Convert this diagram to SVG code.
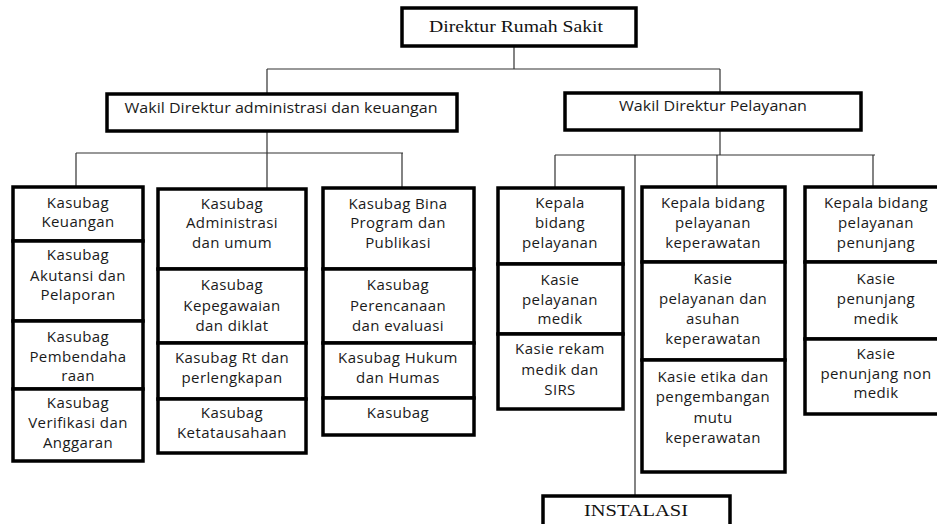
<svg xmlns="http://www.w3.org/2000/svg" width="937" height="524" viewBox="0 0 937 524">
  <style>
    .box { fill: #ffffff; stroke: #000000; stroke-width: 3.5; }
    .link { fill: none; stroke: #333333; stroke-width: 1.2; }
    .t { font-family: "Open Sans", "Liberation Sans", sans-serif; font-size: 15px; letter-spacing: 0.4px; fill: #1a1a1a; text-anchor: middle; }
    .serif { font-family: "Liberation Serif", serif; fill: #111111; text-anchor: middle; }
  </style>

  <!-- connectors -->
  <g id="connectors">
    <path class="link" d="M514 46 V69 M267 69 H720 M267 69 V94 M720 69 V93"/>
    <path class="link" d="M267 131 V153 M76 153 H403 M76 153 V187 M267 153 V189 M402 153 V188"/>
    <path class="link" d="M720 130 V155 M555 155 H875 M555 155 V188 M717 155 V187 M873 155 V187 M635 155 V496"/>
  </g>

  <!-- top level -->
  <g id="direktur">
    <rect class="box" x="402" y="8" width="234" height="38"/>
    <text class="serif" x="516" y="32" font-size="17" textLength="174" lengthAdjust="spacingAndGlyphs">Direktur Rumah Sakit</text>
  </g>
  <g id="wadir-adm">
    <rect class="box" x="107" y="94" width="350" height="37"/>
    <text class="t" x="281" y="113" style="font-size:14px;letter-spacing:0" textLength="313" lengthAdjust="spacingAndGlyphs">Wakil Direktur administrasi dan keuangan</text>
  </g>
  <g id="wadir-pel">
    <rect class="box" x="565" y="93" width="296" height="37"/>
    <text class="t" x="713" y="111" style="font-size:14px;letter-spacing:0" textLength="188" lengthAdjust="spacingAndGlyphs">Wakil Direktur Pelayanan</text>
  </g>

  <!-- column 1 -->
  <g id="keuangan">
    <rect class="box" x="13" y="187" width="130" height="54"/>
    <text class="t" x="78" y="208">Kasubag</text>
    <text class="t" x="78" y="227">Keuangan</text>
  </g>
  <g id="akutansi">
    <rect class="box" x="13" y="241" width="130" height="80"/>
    <text class="t" x="78" y="260">Kasubag</text>
    <text class="t" x="78" y="281">Akutansi dan</text>
    <text class="t" x="78" y="300">Pelaporan</text>
  </g>
  <g id="pembendaharaan">
    <rect class="box" x="13" y="321" width="130" height="68"/>
    <text class="t" x="78" y="342">Kasubag</text>
    <text class="t" x="78" y="362">Pembendaha</text>
    <text class="t" x="78" y="381">raan</text>
  </g>
  <g id="verifikasi">
    <rect class="box" x="13" y="389" width="130" height="72"/>
    <text class="t" x="78" y="408">Kasubag</text>
    <text class="t" x="78" y="428">Verifikasi dan</text>
    <text class="t" x="78" y="448">Anggaran</text>
  </g>

  <!-- column 2 -->
  <g id="administrasi">
    <rect class="box" x="158" y="189" width="148" height="80"/>
    <text class="t" x="232" y="209">Kasubag</text>
    <text class="t" x="232" y="228">Administrasi</text>
    <text class="t" x="232" y="248">dan umum</text>
  </g>
  <g id="kepegawaian">
    <rect class="box" x="158" y="269" width="148" height="74"/>
    <text class="t" x="232" y="290">Kasubag</text>
    <text class="t" x="232" y="311">Kepegawaian</text>
    <text class="t" x="232" y="331">dan diklat</text>
  </g>
  <g id="perlengkapan">
    <rect class="box" x="158" y="343" width="148" height="56"/>
    <text class="t" x="232" y="363">Kasubag Rt dan</text>
    <text class="t" x="232" y="383">perlengkapan</text>
  </g>
  <g id="ketatausahaan">
    <rect class="box" x="158" y="399" width="148" height="54"/>
    <text class="t" x="232" y="418">Kasubag</text>
    <text class="t" x="232" y="438">Ketatausahaan</text>
  </g>

  <!-- column 3 -->
  <g id="bina-program">
    <rect class="box" x="323" y="188" width="151" height="81"/>
    <text class="t" x="398" y="209">Kasubag Bina</text>
    <text class="t" x="398" y="228">Program dan</text>
    <text class="t" x="398" y="248">Publikasi</text>
  </g>
  <g id="perencanaan">
    <rect class="box" x="323" y="269" width="151" height="74"/>
    <text class="t" x="398" y="290">Kasubag</text>
    <text class="t" x="398" y="311">Perencanaan</text>
    <text class="t" x="398" y="331">dan evaluasi</text>
  </g>
  <g id="hukum">
    <rect class="box" x="323" y="343" width="151" height="55"/>
    <text class="t" x="398" y="363">Kasubag Hukum</text>
    <text class="t" x="398" y="383">dan Humas</text>
  </g>
  <g id="kasubag-lain">
    <rect class="box" x="323" y="398" width="151" height="37"/>
    <text class="t" x="398" y="418">Kasubag</text>
  </g>

  <!-- column 4 -->
  <g id="kabid-pelayanan">
    <rect class="box" x="498" y="188" width="125" height="76"/>
    <text class="t" x="560" y="208">Kepala</text>
    <text class="t" x="560" y="228">bidang</text>
    <text class="t" x="560" y="248">pelayanan</text>
  </g>
  <g id="kasie-medik">
    <rect class="box" x="498" y="264" width="125" height="70"/>
    <text class="t" x="560" y="285">Kasie</text>
    <text class="t" x="560" y="305">pelayanan</text>
    <text class="t" x="560" y="324">medik</text>
  </g>
  <g id="kasie-rekam">
    <rect class="box" x="498" y="334" width="125" height="75"/>
    <text class="t" x="560" y="354">Kasie rekam</text>
    <text class="t" x="560" y="375">medik dan</text>
    <text class="t" x="560" y="395">SIRS</text>
  </g>

  <!-- column 5 -->
  <g id="kabid-keperawatan">
    <rect class="box" x="642" y="187" width="143" height="75"/>
    <text class="t" x="713" y="208">Kepala bidang</text>
    <text class="t" x="713" y="228">pelayanan</text>
    <text class="t" x="713" y="248">keperawatan</text>
  </g>
  <g id="kasie-asuhan">
    <rect class="box" x="642" y="262" width="143" height="98"/>
    <text class="t" x="713" y="284">Kasie</text>
    <text class="t" x="713" y="304">pelayanan dan</text>
    <text class="t" x="713" y="324">asuhan</text>
    <text class="t" x="713" y="344">keperawatan</text>
  </g>
  <g id="kasie-etika">
    <rect class="box" x="642" y="360" width="143" height="112"/>
    <text class="t" x="713" y="382">Kasie etika dan</text>
    <text class="t" x="713" y="402">pengembangan</text>
    <text class="t" x="713" y="423">mutu</text>
    <text class="t" x="713" y="443">keperawatan</text>
  </g>

  <!-- column 6 -->
  <g id="kabid-penunjang">
    <rect class="box" x="805" y="187" width="137" height="75"/>
    <text class="t" x="876" y="208">Kepala bidang</text>
    <text class="t" x="876" y="228">pelayanan</text>
    <text class="t" x="876" y="248">penunjang</text>
  </g>
  <g id="kasie-penunjang-medik">
    <rect class="box" x="805" y="262" width="137" height="77"/>
    <text class="t" x="876" y="284">Kasie</text>
    <text class="t" x="876" y="304">penunjang</text>
    <text class="t" x="876" y="324">medik</text>
  </g>
  <g id="kasie-penunjang-non">
    <rect class="box" x="805" y="339" width="137" height="75"/>
    <text class="t" x="876" y="359">Kasie</text>
    <text class="t" x="876" y="379">penunjang non</text>
    <text class="t" x="876" y="398">medik</text>
  </g>

  <!-- instalasi -->
  <g id="instalasi">
    <rect class="box" x="543" y="496" width="187" height="40"/>
    <text class="serif" x="636" y="516" font-size="17" textLength="104" lengthAdjust="spacingAndGlyphs">INSTALASI</text>
  </g>
</svg>
